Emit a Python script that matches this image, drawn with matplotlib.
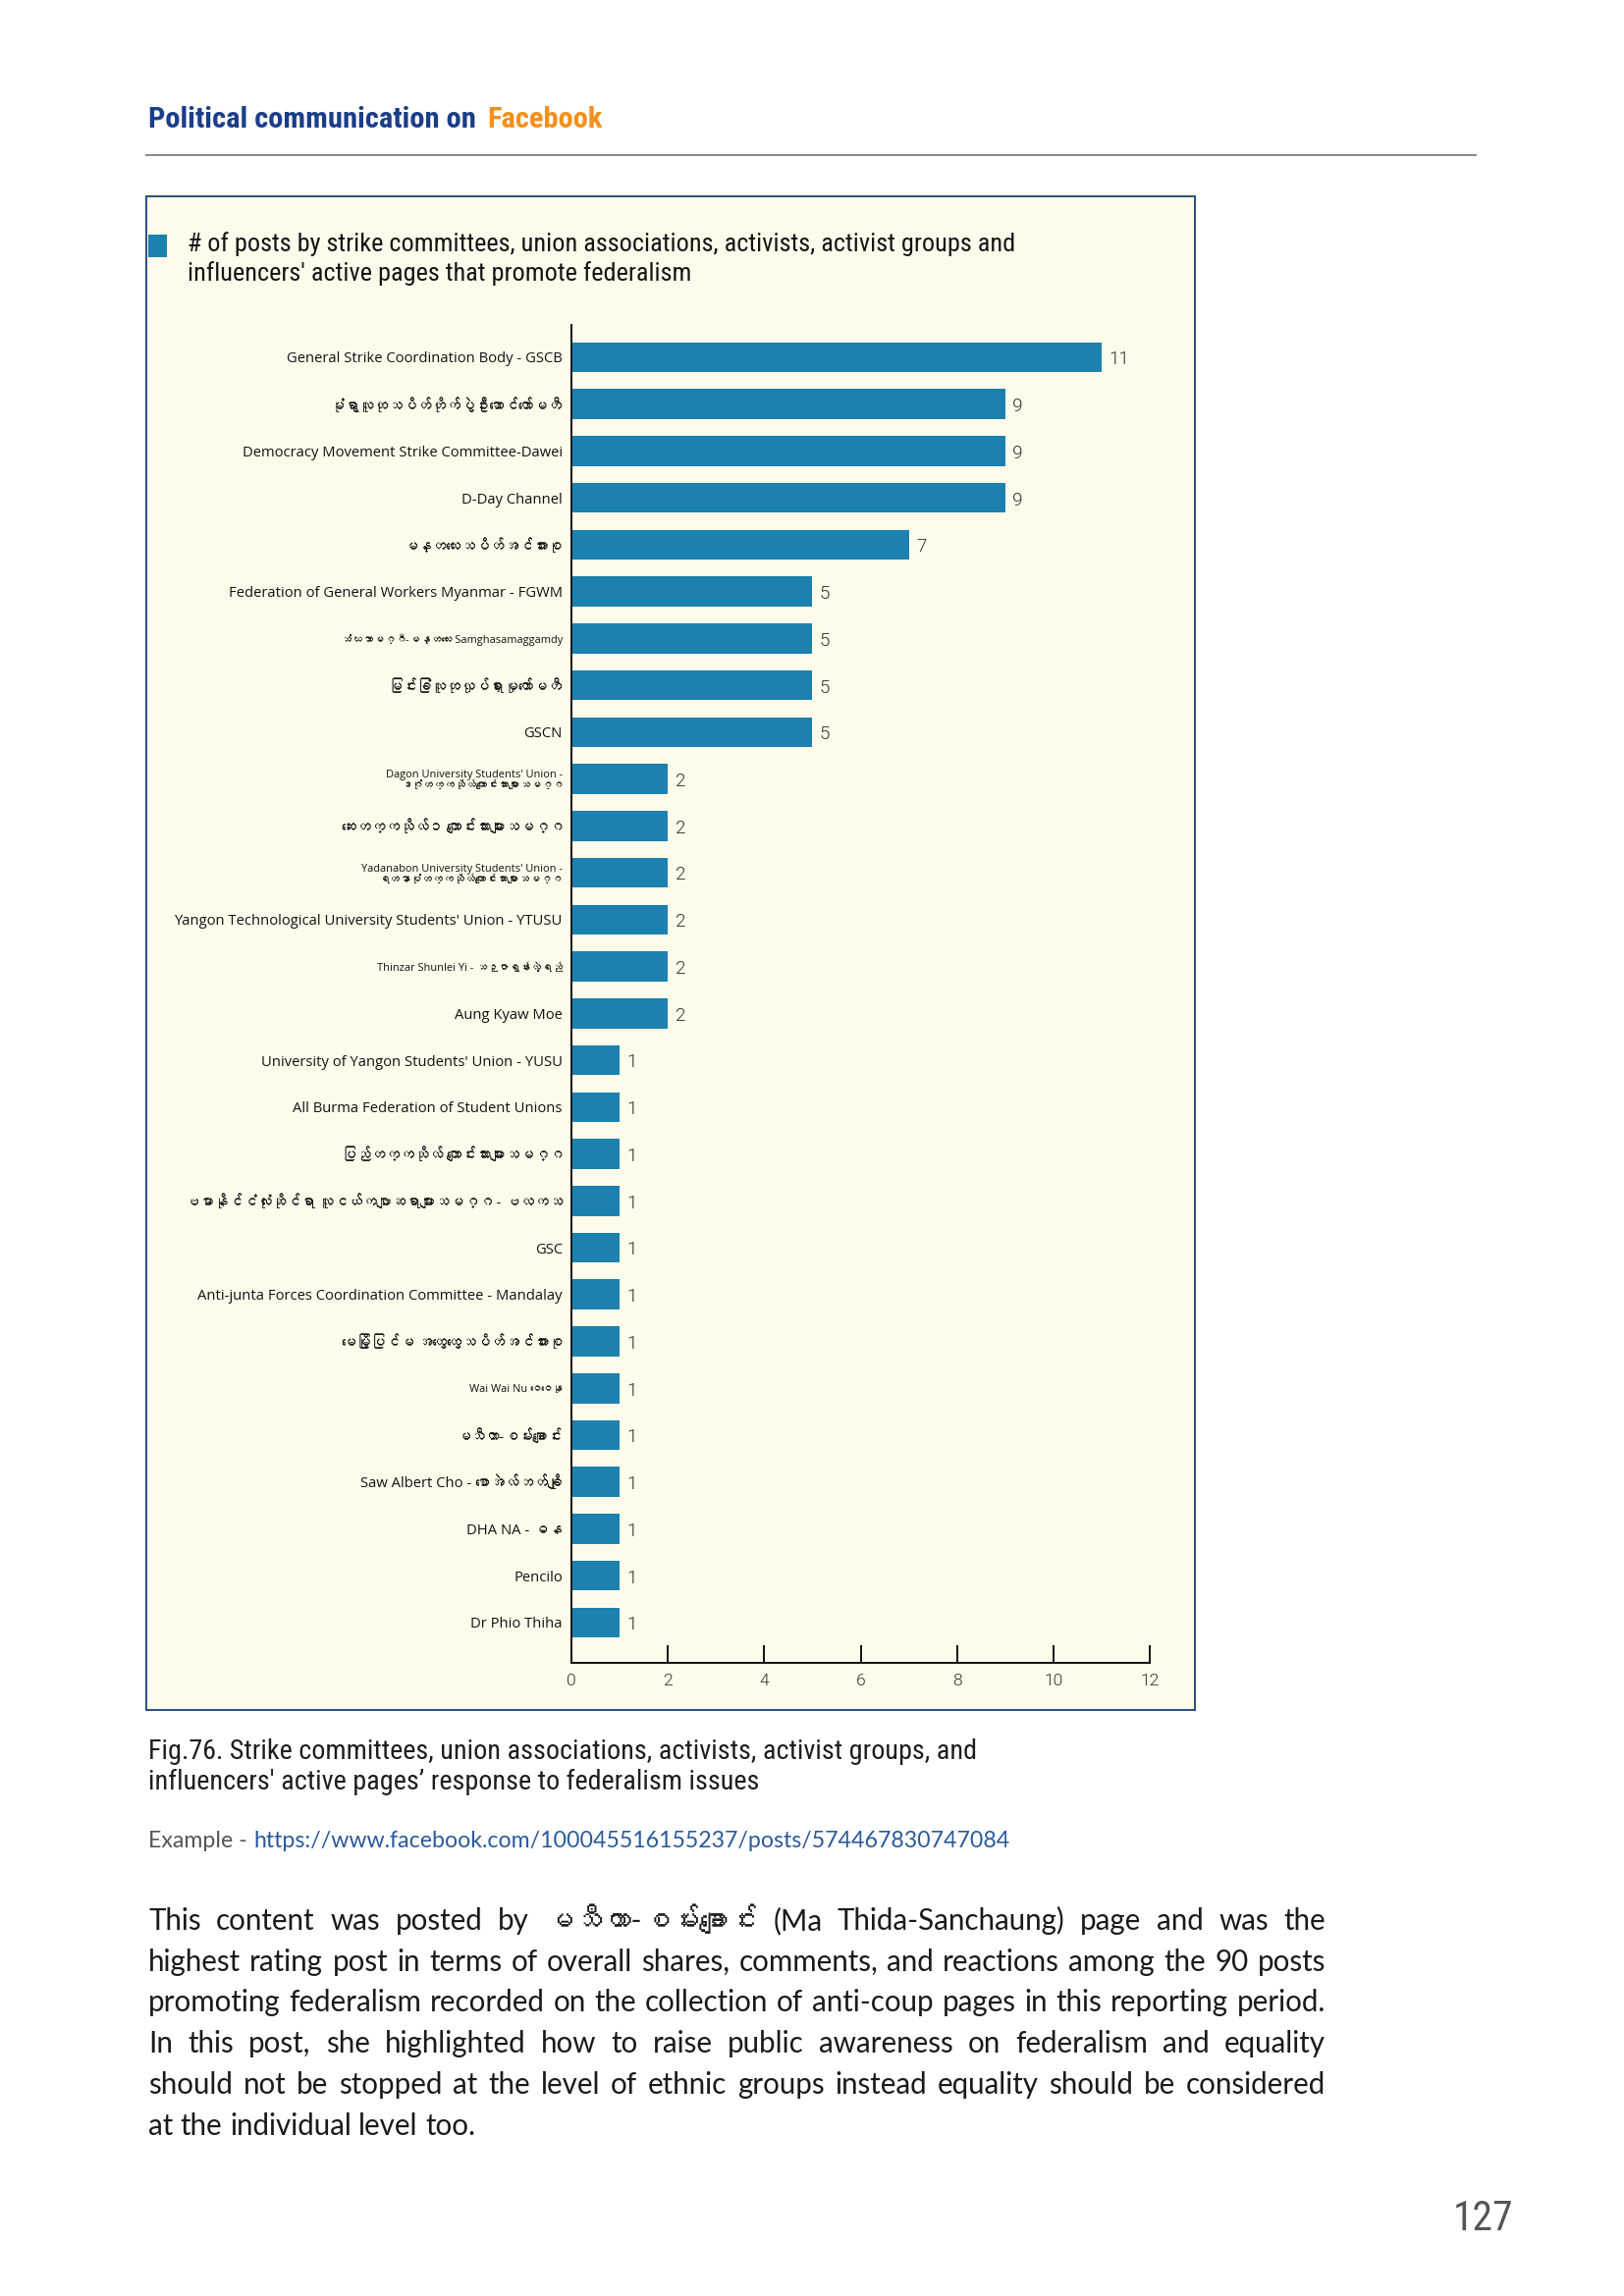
import matplotlib
matplotlib.use('Agg')
import matplotlib.pyplot as plt
import matplotlib.font_manager as fm
from matplotlib.ft2font import FT2Font
from matplotlib.patches import Rectangle
from matplotlib.lines import Line2D

# ---------------- data ----------------
categories = [
    "General Strike Coordination Body - GSCB",
    "မုံရွာလူထုသပိတ်တိုက်ပွဲဦးဆောင်ကော်မတီ",
    "Democracy Movement Strike Committee-Dawei",
    "D-Day Channel",
    "မန္တလေးသပိတ်အင်အားစု",
    "Federation of General Workers Myanmar - FGWM",
    "သံဃသာမဂ္ဂီ-မန္တလေး Samghasamaggamdy",
    "မြင်းခြံလူထုလှုပ်ရှားမှုကော်မတီ",
    "GSCN",
    "Dagon University Students' Union -\nဒဂုံတက္ကသိုလ်ကျောင်းသားများသမဂ္ဂ",
    "ဆေးတက္ကသိုလ်၁ ကျောင်းသားများသမဂ္ဂ",
    "Yadanabon University Students' Union -\nရတနာပုံတက္ကသိုလ်ကျောင်းသားများသမဂ္ဂ",
    "Yangon Technological University Students' Union - YTUSU",
    "Thinzar Shunlei Yi - သဉ္ဇာရွှန်းလဲ့ရည်",
    "Aung Kyaw Moe",
    "University of Yangon Students' Union - YUSU",
    "All Burma Federation of Student Unions",
    "ပြည်တက္ကသိုလ် ကျောင်းသားများသမဂ္ဂ",
    "ဗမာနိုင်ငံလုံးဆိုင်ရာ လူငယ်ကဗျာဆရာများသမဂ္ဂ - ဗလကသ",
    "GSC",
    "Anti-junta Forces Coordination Committee - Mandalay",
    "မေမြို့ပြင်မ အထွေထွေသပိတ်အင်အားစု",
    "Wai Wai Nu ဝေဝေနု",
    "မသီတာ-စမ်းချောင်း",
    "Saw Albert Cho - စောအဲလ်ဘတ်ချို",
    "DHA NA - ဓန",
    "Pencilo",
    "Dr Phio Thiha",
]
values = [11, 9, 9, 9, 7, 5, 5, 5, 5, 2, 2, 2, 2, 2, 2,
          1, 1, 1, 1, 1, 1, 1, 1, 1, 1, 1, 1, 1]
xticks = [0, 2, 4, 6, 8, 10, 12]

header_main = "Political communication on"
header_accent = "Facebook"
chart_title = ["# of posts by strike committees, union associations, activists, activist groups and",
               "influencers' active pages that promote federalism"]
caption = ["Fig.76. Strike committees, union associations, activists, activist groups, and",
           "influencers' active pages\u2019 response to federalism issues"]
example_label = "Example - "
example_url = "https://www.facebook.com/100045516155237/posts/574467830747084"
paragraph = [
    "This content was posted by မသီတာ-စမ်းချောင်း (Ma Thida-Sanchaung) page and was the",
    "highest rating post in terms of overall shares, comments, and reactions among the 90 posts",
    "promoting federalism recorded on the collection of anti-coup pages in this reporting period.",
    "In this post, she highlighted how to raise public awareness on federalism and equality",
    "should not be stopped at the level of ethnic groups instead equality should be considered",
    "at the individual level too.",
]
page_number = "127"

# labels drawn in the smaller type (style)
small_label_idx = {6, 9, 11, 13, 22}

# ---------------- fonts ----------------
names = {f.name for f in fm.fontManager.ttflist}


def pick(*cands):
    for c in cands:
        if c in names:
            return c
    return 'DejaVu Sans'


def find_cover(cp):
    seen = set()
    for f in fm.fontManager.ttflist:
        if f.fname in seen:
            continue
        seen.add(f.fname)
        try:
            if cp in FT2Font(f.fname).get_charmap():
                return f.name
        except Exception:
            continue
    return None


MY = find_cover(0x1000)


def fam(*base):
    lst = [b for b in base if b in names]
    if MY and MY not in lst:
        lst.append(MY)
    lst.append('DejaVu Sans')
    return lst


def narrow_font():
    for n in ('Liberation Sans Narrow', 'Roboto Condensed', 'Open Sans Condensed',
              'Noto Sans Condensed', 'DejaVu Sans Condensed'):
        if n in names:
            return n, 'normal'
    for f in fm.fontManager.ttflist:
        if f.name in ('DejaVu Sans', 'Noto Sans', 'Open Sans', 'Roboto') and \
                str(f.stretch) in ('condensed', 'semi-condensed', '75', '87.5'):
            return f.name, 'condensed'
    return 'Liberation Sans', 'normal'


NARROW, NSTRETCH = narrow_font()
LABEL_F = fam('Open Sans')
NUM_F = fam('Roboto')
BODY_F = fam('Lato')

# ---------------- figure ----------------
W, H, DPI = 1654, 2339, 200
fig = plt.figure(figsize=(W / DPI, H / DPI), dpi=DPI)
fig.patch.set_facecolor('white')
renderer = fig.canvas.get_renderer()

BAR = '#1c81ae'


def fx(x):
    return x / W


def fy(y):
    return 1 - y / H


def width_of(t):
    return t.get_window_extent(renderer).width


def fit(t, target):
    t.set_fontsize(t.get_fontsize() * target / width_of(t))
    return t.get_fontsize()


def ntext(x, y, s, **kw):
    return fig.text(x, y, s, family=NARROW, fontstretch=NSTRETCH, **kw)


# header
h1 = ntext(fx(151), fy(122), header_main, fontweight='bold',
           color='#1b3e8a', fontsize=10, va='center', ha='left')
hs = fit(h1, 333)
ntext(fx(496), fy(122), header_accent, fontweight='bold',
      color='#f39019', fontsize=hs, va='center', ha='left')
fig.add_artist(Line2D([fx(149), fx(1503)], [fy(158), fy(158)], color='#8a8a8a', lw=0.7))

# chart panel
panel = Rectangle((fx(149), fy(1742)), 1068 / W, 1542 / H, transform=fig.transFigure,
                  facecolor='#fefbea', edgecolor='#2a4d80', lw=0.7, zorder=-5)
fig.patches.append(panel)
fig.patches.append(Rectangle((fx(151), fy(262)), 19 / W, 23 / H, transform=fig.transFigure,
                             facecolor=BAR, edgecolor='none', zorder=-4))
t1 = ntext(fx(191), fy(249), chart_title[0], color='#151515',
           fontsize=8, va='center', ha='left')
ts = fit(t1, 843)
ntext(fx(191), fy(279), chart_title[1], color='#151515',
      fontsize=ts, va='center', ha='left')

# bar chart
ax = fig.add_axes([fx(582), fy(1694), (1171 - 582) / W, (1694 - 331) / H])
ax.set_zorder(2)
ax.patch.set_alpha(0)
pos = list(range(len(categories)))
ax.barh(pos, values, height=0.64, color=BAR, zorder=2)
ax.set_xlim(0, 12)
ax.set_ylim(len(categories) - 1 + 0.86, -0.69)
for s in ('top', 'right'):
    ax.spines[s].set_visible(False)
for s in ('left', 'bottom'):
    ax.spines[s].set_linewidth(0.7)
    ax.spines[s].set_color('#111111')
ax.set_xticks(xticks)
ax.set_xticklabels([str(v) for v in xticks])
ax.tick_params(axis='x', direction='in', length=6.5, width=0.7, pad=4,
               labelsize=6.3, labelcolor='#333333', colors='#111111')
for lbl in ax.get_xticklabels():
    lbl.set_family(NUM_F)
    lbl.set_fontweight(300)
    lbl.set_color('#333333')

tmp = fig.text(0, 0, "Yangon Technological University Students' Union - YTUSU",
               family=LABEL_F, fontsize=5)
lab_size = fit(tmp, 395)
tmp.remove()

ax.set_yticks(pos)
ax.set_yticklabels(categories)
ax.tick_params(axis='y', length=0, pad=3.3)
for i, lbl in enumerate(ax.get_yticklabels()):
    lbl.set_family(LABEL_F)
    lbl.set_color('#111111')
    lbl.set_fontsize(lab_size * (0.74 if i in small_label_idx else 1.0))
    lbl.set_linespacing(1.0)

for i, v in enumerate(values):
    ax.text(v + 0.15, i + 0.05, str(v), va='center', ha='left', fontsize=6.8,
            color='#333333', family=NUM_F, fontweight=300)

# caption
c1 = ntext(fx(151), fy(1785), caption[0], color='#1e1e1e',
           fontsize=8, va='center', ha='left')
cs = fit(c1, 843)
ntext(fx(151), fy(1815), caption[1], color='#1e1e1e',
      fontsize=cs, va='center', ha='left')

# example line
tmp = fig.text(0, 0, example_label + example_url, family=BODY_F, fontsize=8)
es = fit(tmp, 877)
tmp.remove()
fig.text(fx(151), fy(1875), example_label, family=BODY_F,
         color='#555555', fontsize=es, va='center', ha='left')
tmp = fig.text(0, 0, "Example -", family=BODY_F, fontsize=es)
ew = width_of(tmp)
tmp.remove()
fig.text(fx(151 + ew + es * DPI / 72 * 0.28), fy(1875), example_url, family=BODY_F,
         color='#2a5a9c', fontsize=es, va='center', ha='left')

# justified paragraph
L, R = 151, 1350
tmps = [fig.text(0, 0, paragraph[k], family=BODY_F, fontsize=10) for k in (1, 2)]
maxw = max(width_of(t) for t in tmps)
for t in tmps:
    t.remove()
body_size = 10 * (R - L) / maxw * 0.992
sp = fig.text(0, 0, "a a", family=BODY_F, fontsize=body_size)
sp2 = fig.text(0, 0, "aa", family=BODY_F, fontsize=body_size)
space_w = width_of(sp) - width_of(sp2)
sp.remove()
sp2.remove()

line_y = [1957, 1999, 2040, 2082, 2124, 2166]
for k, line in enumerate(paragraph):
    words = line.split(' ')
    texts = [fig.text(0, fy(line_y[k] + 9), w_, family=BODY_F, fontsize=body_size,
                      color='#1a1a1a', va='baseline', ha='left') for w_ in words]
    widths = [width_of(t) for t in texts]
    last = (k == len(paragraph) - 1)
    gap = space_w if last else (R - L - sum(widths)) / (len(words) - 1)
    x = L
    for t, w_ in zip(texts, widths):
        t.set_x(fx(x))
        x += w_ + gap

# page number
ntext(fx(1511), fy(2260), page_number, color='#555555',
      fontsize=15, va='center', ha='center')

fig.savefig('out.png', dpi=DPI, facecolor='white')
